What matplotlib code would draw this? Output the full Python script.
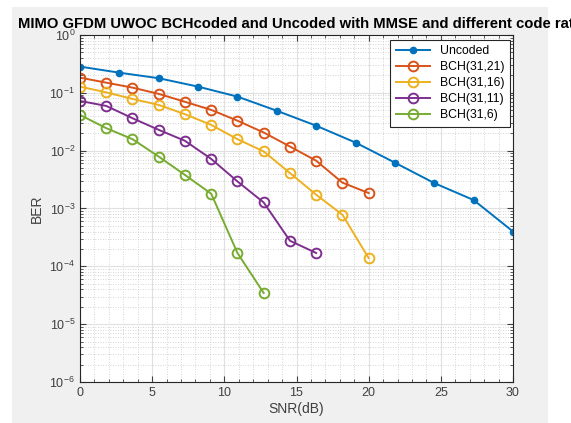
import numpy as np
import matplotlib
matplotlib.use('Agg')
import matplotlib.pyplot as plt
from matplotlib.patches import Rectangle
from matplotlib.ticker import LogLocator, MultipleLocator, NullFormatter

plt.rcParams['font.family'] = ['Liberation Sans', 'DejaVu Sans']

# SNR grids (dB)
snr_uncoded = np.linspace(0, 30, 12)
snr_coded = np.linspace(0, 20, 12)

labels = ['Uncoded', 'BCH(31,21)', 'BCH(31,16)', 'BCH(31,11)', 'BCH(31,6)']
colors = ['#0072BD', '#D95319', '#EDB120', '#7E2F8E', '#77AC30']

ber_uncoded = [0.284, 0.223, 0.179, 0.128, 0.086, 0.049, 0.027, 0.0138, 0.0062, 0.00275, 0.0014, 0.0004]
ber_31_21 = [0.183, 0.15, 0.123, 0.096, 0.070, 0.0507, 0.033, 0.0206, 0.0118, 0.0067, 0.0028, 0.00185]
ber_31_16 = [0.128, 0.102, 0.0785, 0.0618, 0.0427, 0.0279, 0.0158, 0.0097, 0.0041, 0.00173, 0.00078, 0.000139]
ber_31_11 = [0.0724, 0.0594, 0.0364, 0.0229, 0.0148, 0.0072, 0.00294, 0.00127, 0.000277, 0.00017]
ber_31_6 = [0.0415, 0.0245, 0.0158, 0.0079, 0.0038, 0.0018, 0.00017, 0.0000346]

fig = plt.figure(figsize=(5.71, 4.23), dpi=100)
fig.patch.set_facecolor('white')
fig.patches.append(Rectangle((12 / 571, 0), (548 - 12) / 571, 1 - 7 / 423,
                             transform=fig.transFigure, facecolor='#f0f0f0',
                             edgecolor='none', zorder=-10))

ax = fig.add_axes([80 / 571, 1 - 382 / 423, (513 - 80) / 571, (382 - 35) / 423])
ax.set_facecolor('white')

ax.semilogy(snr_uncoded, ber_uncoded, '-', marker='o', ms=4.5, color=colors[0],
            mfc=colors[0], mec=colors[0], lw=1.4, label=labels[0])
coded = [ber_31_21, ber_31_16, ber_31_11, ber_31_6]
for i, b in enumerate(coded):
    ax.semilogy(snr_coded[:len(b)], b, '-', marker='o', ms=7, mfc='none',
                mew=1.4, color=colors[i + 1], lw=1.4, label=labels[i + 1])

ax.set_xlim(0, 30)
ax.set_ylim(1e-6, 1)
ax.xaxis.set_major_locator(MultipleLocator(5))
ax.xaxis.set_minor_locator(MultipleLocator(1))
ax.yaxis.set_major_locator(LogLocator(base=10, numticks=10))
ax.yaxis.set_minor_locator(LogLocator(base=10, subs=np.arange(2, 10), numticks=10))
ax.yaxis.set_minor_formatter(NullFormatter())

ax.grid(True, which='major', color='#e0e0e0', lw=0.8, ls='-')
ax.grid(True, which='minor', color='#c8c8c8', lw=0.6, ls=(0, (1, 2)))
ax.set_axisbelow(True)

ax.tick_params(which='both', direction='in', top=True, right=True,
               labelsize=9, colors='#404040')
ax.tick_params(which='major', length=4)
ax.tick_params(which='minor', length=2)
for s in ax.spines.values():
    s.set_color('#262626')
    s.set_linewidth(0.8)

ax.set_xlabel('SNR(dB)', fontsize=10, color='#404040', labelpad=2)
ax.set_ylabel('BER', fontsize=10, color='#404040', labelpad=4)

fig.text(18 / 571, 1 - 28 / 423,
         'MIMO GFDM UWOC BCHcoded and Uncoded with MMSE and different code rates',
         fontsize=10.7, fontweight='bold', ha='left', va='baseline', color='black')

leg = ax.legend(loc='upper right', bbox_to_anchor=(0.993, 0.986), borderaxespad=0,
                fontsize=8.8, fancybox=False, framealpha=1, edgecolor='#262626',
                handlelength=2.8, borderpad=0.45, labelspacing=0.32)
leg.get_frame().set_linewidth(0.8)

fig.savefig('out.png', dpi=100)
